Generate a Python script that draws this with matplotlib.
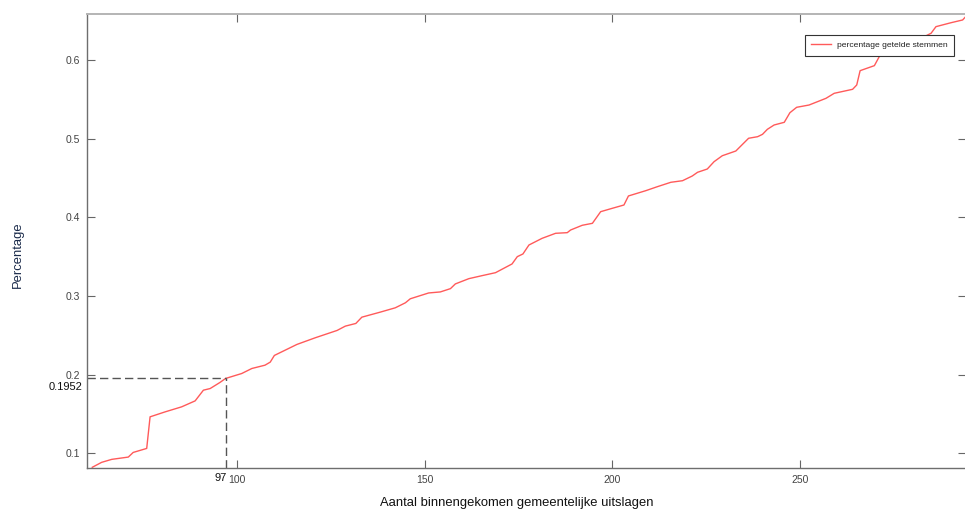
import matplotlib
matplotlib.use("Agg")
import matplotlib.pyplot as plt
from matplotlib.transforms import blended_transform_factory

plt.rcParams['font.family'] = ['Liberation Sans', 'DejaVu Sans']

# number of municipal results received vs. share of counted votes
uitslagen = [61.5, 64.0, 66.7, 71.1, 72.4, 76.0, 76.9, 80.9, 85.3, 88.9,
             91.1, 92.9, 95.5, 97.0, 101.3, 104.0, 107.5, 108.9, 110.0, 113.3,
             116.0, 120.9, 126.7, 128.9, 131.7, 133.3, 138.2, 142.2, 144.9, 146.2,
             151.1, 154.2, 156.9, 158.2, 161.8, 165.3, 168.9, 173.3, 174.7, 176.2,
             177.8, 181.3, 184.9, 188.0, 188.9, 192.0, 194.7, 196.9, 200.0, 203.1,
             204.3, 208.9, 212.0, 215.6, 218.7, 221.3, 222.7, 225.3, 227.1, 229.3,
             232.9, 236.3, 238.7, 240.0, 241.3, 243.1, 245.8, 247.3, 249.1, 252.4,
             256.9, 259.1, 264.0, 265.1, 266.0, 269.8, 271.1, 278.0, 284.9, 286.2,
             290.2, 293.3, 294.2]
percentage = [0.0822, 0.0885, 0.0923, 0.0952, 0.1011, 0.1062, 0.1464, 0.1527, 0.1591, 0.1667,
              0.1803, 0.1824, 0.1901, 0.1952, 0.2015, 0.2079, 0.2121, 0.2160, 0.2245, 0.2322,
              0.2385, 0.2470, 0.2563, 0.2618, 0.2652, 0.2732, 0.2796, 0.2851, 0.2915, 0.2966,
              0.3040, 0.3053, 0.3095, 0.3155, 0.3222, 0.3260, 0.3298, 0.3409, 0.3502, 0.3536,
              0.3650, 0.3735, 0.3799, 0.3807, 0.3841, 0.3901, 0.3926, 0.4074, 0.4117, 0.4159,
              0.4274, 0.4341, 0.4392, 0.4448, 0.4468, 0.4528, 0.4575, 0.4617, 0.4710, 0.4786,
              0.4846, 0.5008, 0.5028, 0.5058, 0.5122, 0.5177, 0.5211, 0.5333, 0.5402, 0.5431,
              0.5516, 0.5580, 0.5631, 0.5686, 0.5868, 0.5932, 0.6047, 0.6180, 0.6344, 0.6428,
              0.6478, 0.6513, 0.6560]

x_ticks = [100, 150, 200, 250]
y_ticks = [0.1, 0.2, 0.3, 0.4, 0.5, 0.6]
marker_x = 97
marker_y = 0.1952

W, H = 965, 511
fig = plt.figure(figsize=(W / 100, H / 100), dpi=100)
ax = fig.add_axes([87 / W, (H - 468) / H, (966 - 87) / W, (468 - 14) / H])

ax.plot(uitslagen, percentage, color='#ff5a5a', lw=1.0,
        label='percentage getelde stemmen')

ax.set_xlim(60.1, 294.2)
ax.set_ylim(0.0813, 0.6589)
ax.set_xticks(x_ticks)
ax.set_yticks(y_ticks)
ax.set_yticklabels([f'{v:g}' for v in y_ticks])

ax.tick_params(direction='in', length=6, width=0.8, color='#666666',
               labelcolor='#444444', labelsize=7.5, pad=5,
               top=True, right=True)
for side in ['left', 'bottom']:
    ax.spines[side].set_color('#6e6e6e')
    ax.spines[side].set_linewidth(1.0)
ax.spines['top'].set_color('#b4b4b4')
ax.spines['top'].set_linewidth(1.4)
ax.spines['right'].set_color('#6e6e6e')

# guide lines to the highlighted point
ax.plot([60.1, marker_x], [marker_y, marker_y], color='#555555', lw=1.0,
        ls=(0, (6, 3)))
ax.plot([marker_x, marker_x], [0.0813, marker_y], color='#555555', lw=1.0,
        ls=(0, (6, 3)))

tx = blended_transform_factory(ax.transData, ax.transAxes)
ax.text(marker_x + 0.3, -0.011, f'{marker_x}', transform=tx, ha='right', va='top',
        fontsize=8, color='#111111')
ty = blended_transform_factory(ax.transAxes, ax.transData)
ax.text(-0.005, marker_y - 0.004, f'{marker_y}', transform=ty, ha='right', va='top',
        fontsize=8, color='#111111')

leg = ax.legend(loc='upper right', bbox_to_anchor=(954 / W, (H - 35) / H),
                bbox_transform=fig.transFigure, fontsize=6.1, frameon=True,
                fancybox=False, handlelength=2.35, borderpad=0.75,
                handletextpad=0.7, borderaxespad=0)
leg.get_frame().set_edgecolor('#333333')
leg.get_frame().set_linewidth(0.8)
leg.get_frame().set_alpha(1.0)
for t in leg.get_texts():
    t.set_color('#222222')

fig.text(18 / W, 1 - 255 / H, 'Percentage', rotation=90, ha='center',
         va='center', fontsize=9.4, color='#1b2b4b')
fig.text(517 / W, 1 - 503 / H, 'Aantal binnengekomen gemeentelijke uitslagen',
         ha='center', va='center', fontsize=9.4, color='#111111')

fig.savefig('out.png', dpi=100)
